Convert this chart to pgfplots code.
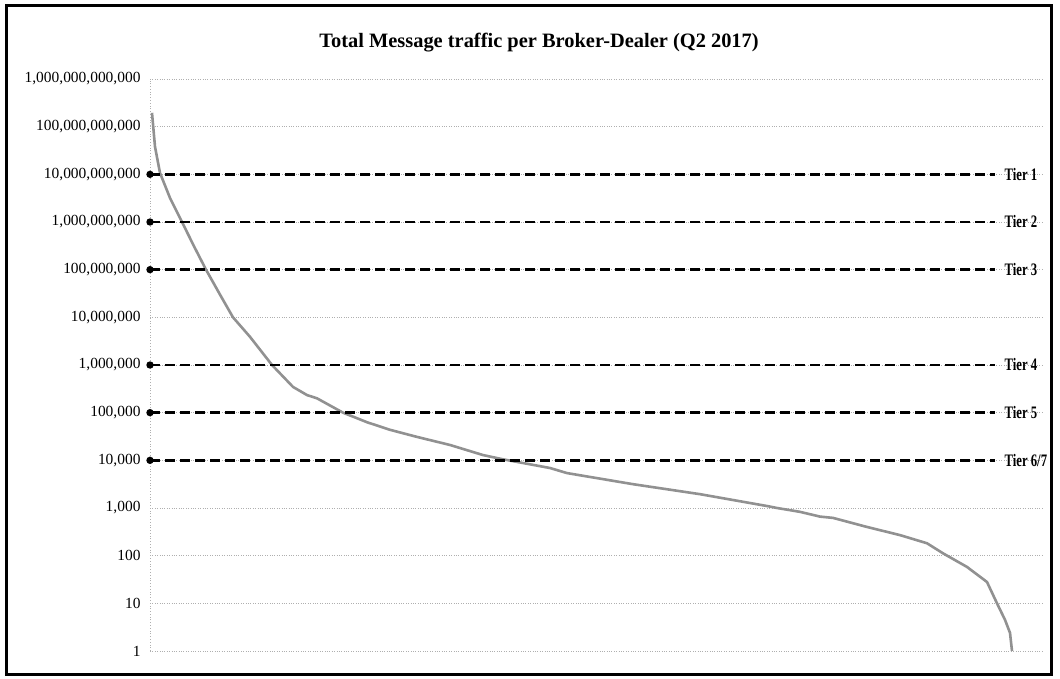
\documentclass[border=0pt]{standalone}
\usepackage{pgfplots}
\pgfplotsset{compat=1.18}
\usepackage{graphicx}
\usepackage{fontspec}
\setmainfont{Liberation Serif}
\definecolor{curve}{RGB}{145,145,145}
\definecolor{gridc}{RGB}{175,175,175}
\newcommand{\tier}[1]{\scalebox{0.8}[1.1]{\bfseries\fontsize{16}{17}\selectfont #1}}
\begin{document}
\begin{tikzpicture}
\useasboundingbox (0,0) rectangle (1060bp,679bp);
\draw[line width=3bp, black] (6bp,4.5bp) rectangle (1051bp,673.5bp);
\node[font=\bfseries\fontsize{20.5}{22}\selectfont, anchor=center] at (539bp,636bp) {Total Message traffic per Broker-Dealer (Q2 2017)};
\begin{axis}[
  at={(150bp,28bp)}, anchor=south west,
  scale only axis, width=894bp, height=572bp,
  ymode=log, log basis y=10,
  xmin=0, xmax=894, ymin=1, ymax=1e12,
  axis x line=none,
  axis y line*=left,
  y axis line style={draw=gridc, dotted, line width=0.8bp, -},
  ytick={1,10,100,1e3,1e4,1e5,1e6,1e7,1e8,1e9,1e10,1e11,1e12},
  yticklabels={1,10,100,{1,000},{10,000},{100,000},{1,000,000},{10,000,000},{100,000,000},{1,000,000,000},{10,000,000,000},{100,000,000,000},{1,000,000,000,000}},
  yticklabel style={font=\fontsize{15.5}{17}\selectfont, xshift=-6bp},
  major tick length=0pt, minor tick num=0,
  ymajorgrids, grid style={draw=gridc, dotted, line width=0.8bp},
  clip=false,
  /pgf/number format/assume math mode=true,
]
\addplot[curve, line width=2.6bp, no marks] coordinates {
(2,1.95e11) (5,3.8e10) (10,1.07e10) (20,3.2e9) (32,1e9) (44,3.1e8) (56,1e8) (70,3.0e7) (83,1e7)
(100,3.9e6) (122,1e6) (143,3.47e5) (157,2.34e5) (167,2.0e5) (193,1e5) (217,6.3e4)
(240,4.37e4) (267,3.1e4) (300,2.1e4) (333,1.29e4) (353,1.05e4) (400,6900) (417,5400)
(483,3160) (550,1950) (617,1100) (627,1000) (650,830) (670,660) (683,620) (717,400)
(750,270) (777,182) (793,112) (817,58) (837,28) (847,10) (855,4.5) (860,2.4) (862,1)
};
\addplot[black, line width=2.4bp, dash pattern=on 10bp off 5bp, mark=*, mark indices={1}, mark options={solid, scale=1.2}] coordinates {(0,1e10) (845,1e10)} node[pos=1, right, xshift=5bp] {\tier{Tier 1}};
\addplot[black, line width=2.4bp, dash pattern=on 10bp off 5bp, mark=*, mark indices={1}, mark options={solid, scale=1.2}] coordinates {(0,1e9) (845,1e9)} node[pos=1, right, xshift=5bp] {\tier{Tier 2}};
\addplot[black, line width=2.4bp, dash pattern=on 10bp off 5bp, mark=*, mark indices={1}, mark options={solid, scale=1.2}] coordinates {(0,1e8) (845,1e8)} node[pos=1, right, xshift=5bp] {\tier{Tier 3}};
\addplot[black, line width=2.4bp, dash pattern=on 10bp off 5bp, mark=*, mark indices={1}, mark options={solid, scale=1.2}] coordinates {(0,1e6) (845,1e6)} node[pos=1, right, xshift=5bp] {\tier{Tier 4}};
\addplot[black, line width=2.4bp, dash pattern=on 10bp off 5bp, mark=*, mark indices={1}, mark options={solid, scale=1.2}] coordinates {(0,1e5) (845,1e5)} node[pos=1, right, xshift=5bp] {\tier{Tier 5}};
\addplot[black, line width=2.4bp, dash pattern=on 10bp off 5bp, mark=*, mark indices={1}, mark options={solid, scale=1.2}] coordinates {(0,1e4) (845,1e4)} node[pos=1, right, xshift=5bp] {\tier{Tier 6/7}};
\end{axis}
\end{tikzpicture}
\end{document}
